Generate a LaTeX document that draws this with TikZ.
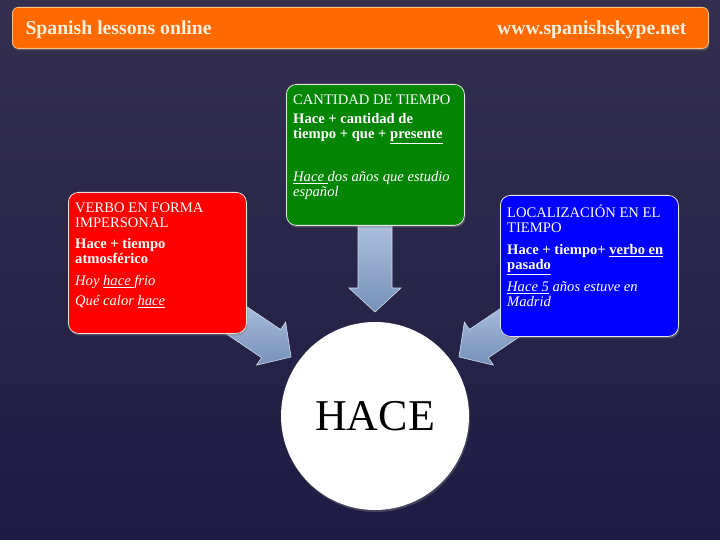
\documentclass[tikz,border=0pt]{standalone}
\usepackage{fontspec}
\setmainfont{Liberation Serif}
\usetikzlibrary{calc,shadows}
\definecolor{bgtop}{RGB}{52,47,78}
\definecolor{bgbot}{RGB}{30,28,68}
\definecolor{barorange}{RGB}{255,106,0}
\definecolor{cream}{RGB}{252,238,220}
\definecolor{boxred}{RGB}{255,0,0}
\definecolor{boxgreen}{RGB}{4,134,4}
\definecolor{boxblue}{RGB}{0,0,255}
\definecolor{arrowlight}{RGB}{176,196,224}
\definecolor{arrowdark}{RGB}{118,144,184}
\begin{document}
\begin{tikzpicture}[x=1pt,y=-1pt,
  infobox/.style={draw=white!80!gray, line width=0.8pt, rounded corners=10pt,
    minimum width=178pt, minimum height=141pt, anchor=north west, inner sep=0pt,
    drop shadow={shadow xshift=1pt, shadow yshift=-2pt, opacity=0.5}},
  boxtext/.style={anchor=north west, inner sep=0pt, align=left, text=white,
    font=\fontsize{14.6}{15}\selectfont},
  bartext/.style={text=cream, font=\fontsize{19.7}{21}\selectfont\bfseries},
  pics/blockarr/.style={code={
    \path[top color=arrowlight, bottom color=arrowdark, draw=arrowlight!60!white, line width=0.6pt]
      (0,0) -- (-24,26) -- (-24,17) -- (-#1,17) -- (-#1,-17) -- (-24,-17) -- (-24,-26) -- cycle;}}
]
\useasboundingbox (0,0) rectangle (720,540);
% background
\shade[top color=bgtop, bottom color=bgbot] (0,0) rectangle (720,540);

% top bar
\node[fill=barorange, draw=orange!50!white, line width=0.8pt, rounded corners=6pt,
  minimum width=696pt, minimum height=41pt, anchor=north west, inner sep=0pt,
  drop shadow={shadow xshift=1pt, shadow yshift=-2pt, opacity=0.5}] (bar) at (12,7) {};
\node[bartext, anchor=base west] (title) at (22,35) {Spanish lessons online};
\node[bartext, anchor=base east] (url) at (690,35) {www.spanishskype.net};

% arrow tips
\coordinate (tipL) at (291,357);
\coordinate (tipM) at (375,312);
\coordinate (tipR) at (459,357);
\path (tipM) pic[rotate=-90] {blockarr=95};
\path (tipL) pic[rotate=-34] {blockarr=85};
\path (tipR) pic[rotate=-146] {blockarr=85};

% boxes
\node[infobox, fill=boxred] (red) at (68,192) {};
\node[infobox, fill=boxgreen] (green) at (286,84) {};
\node[infobox, fill=boxblue] (blue) at (500,195) {};

\node[boxtext] (redtxt) at ($(red.north west)+(7,10)$)
  {\strut VERBO EN FORMA\\
   IMPERSONAL\\[6pt]
   \textbf{Hace + tiempo}\\
   \textbf{atmosférico}\\[7pt]
   \textit{Hoy \underline{hace\ }frio}\\[5pt]
   \textit{Qué calor \underline{hace}}};

\node[boxtext] (greentxt) at ($(green.north west)+(7,10)$)
  {\strut CANTIDAD DE TIEMPO\\[4pt]
   \textbf{Hace + cantidad de}\\
   \textbf{tiempo + que + \underline{presente}}\\[27pt]
   \textit{\underline{Hace\ }dos años que estudio}\\
   \textit{español}};

\node[boxtext] (bluetxt) at ($(blue.north west)+(7,10)$)
  {\strut LOCALIZACIÓN EN EL\\
   TIEMPO\\[7pt]
   \textbf{Hace + tiempo+ \underline{verbo en}}\\
   \textbf{\underline{pasado}}\\[7pt]
   \textit{\underline{Hace 5} años estuve en}\\
   \textit{Madrid}};

% central circle
\node[circle, fill=white, minimum size=188pt, inner sep=0pt,
  drop shadow={shadow xshift=1pt, shadow yshift=-2pt, opacity=0.4},
  font=\fontsize{44}{44}\selectfont] (hace) at (375,416) {HACE};
\end{tikzpicture}
\end{document}
